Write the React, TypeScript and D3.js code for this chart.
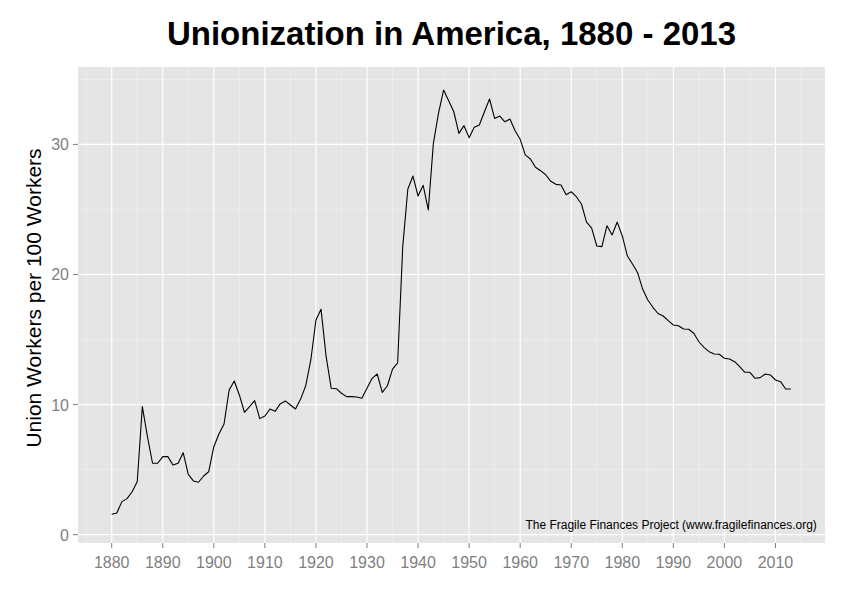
import React, { useEffect, useRef } from 'react';
import * as d3 from 'd3';

// union membership rate, one value per year from 1880 to 2013
const startYear = 1880;
const unionRate = [
  1.57, 1.67, 2.54, 2.77, 3.3, 4.07, 9.84, 7.53, 5.49, 5.49,
  6.0, 6.0, 5.36, 5.49, 6.3, 4.64, 4.13, 4.03, 4.51, 4.84,
  6.76, 7.74, 8.51, 11.12, 11.81, 10.74, 9.41, 9.84, 10.3, 8.92,
  9.12, 9.66, 9.48, 10.05, 10.28, 9.97, 9.66, 10.42, 11.45, 13.43,
  16.5, 17.32, 13.68, 11.25, 11.22, 10.87, 10.61, 10.61, 10.58, 10.48,
  11.25, 12.02, 12.35, 10.94, 11.45, 12.72, 13.2, 22.14, 26.57, 27.57,
  26.03, 26.86, 24.96, 30.08, 32.39, 34.18, 33.36, 32.51, 30.85, 31.44,
  30.52, 31.31, 31.49, 32.51, 33.49, 32.0, 32.18, 31.74, 31.95, 31.05,
  30.39, 29.19, 28.88, 28.24, 27.98, 27.67, 27.16, 26.93, 26.88, 26.13,
  26.36, 25.98, 25.42, 24.03, 23.57, 22.19, 22.14, 23.75, 23.04, 24.03,
  22.96, 21.42, 20.81, 20.14, 18.86, 18.04, 17.48, 17.0, 16.81, 16.45,
  16.12, 16.06, 15.81, 15.79, 15.48, 14.83, 14.4, 14.07, 13.89, 13.87,
  13.56, 13.51, 13.3, 12.91, 12.48, 12.48, 12.02, 12.07, 12.35, 12.28,
  11.89, 11.76, 11.2, 11.2,
];
const years = unionRate.map((_, i) => startYear + i);

const xTicks = [1880, 1890, 1900, 1910, 1920, 1930, 1940, 1950, 1960, 1970, 1980, 1990, 2000, 2010];
const xMinor = [1875, 1885, 1895, 1905, 1915, 1925, 1935, 1945, 1955, 1965, 1975, 1985, 1995, 2005, 2015];
const yTicks = [0, 10, 20, 30];
const yMinor = [5, 15, 25, 35];

const title = 'Unionization in America, 1880 - 2013';
const yLabel = 'Union Workers per 100 Workers';
const caption = 'The Fragile Finances Project (www.fragilefinances.org)';

const width = 858;
const height = 600;
const panel = { left: 78, top: 67, right: 825, bottom: 543 };
const font = 'Liberation Sans, Arial, sans-serif';

export default function App() {
  const ref = useRef<SVGSVGElement>(null);

  useEffect(() => {
    const svg = d3.select(ref.current);
    svg.selectAll('*').remove();

    const x = d3.scaleLinear()
      .domain([1873.4, 2019.7])
      .range([panel.left, panel.right]);
    const y = d3.scaleLinear()
      .domain([-0.64, 35.95])
      .range([panel.bottom, panel.top]);

    svg.append('rect')
      .attr('x', panel.left)
      .attr('y', panel.top)
      .attr('width', panel.right - panel.left)
      .attr('height', panel.bottom - panel.top)
      .attr('fill', '#e5e5e5');

    const grid = svg.append('g');
    grid.selectAll('.vminor').data(xMinor).enter().append('line')
      .attr('x1', d => x(d)).attr('x2', d => x(d))
      .attr('y1', panel.top).attr('y2', panel.bottom)
      .attr('stroke', '#f2f2f2').attr('stroke-width', 0.6);
    grid.selectAll('.hminor').data(yMinor).enter().append('line')
      .attr('x1', panel.left).attr('x2', panel.right)
      .attr('y1', d => y(d)).attr('y2', d => y(d))
      .attr('stroke', '#f2f2f2').attr('stroke-width', 0.6);
    grid.selectAll('.vmajor').data(xTicks).enter().append('line')
      .attr('x1', d => x(d)).attr('x2', d => x(d))
      .attr('y1', panel.top).attr('y2', panel.bottom)
      .attr('stroke', '#ffffff').attr('stroke-width', 1.2);
    grid.selectAll('.hmajor').data(yTicks).enter().append('line')
      .attr('x1', panel.left).attr('x2', panel.right)
      .attr('y1', d => y(d)).attr('y2', d => y(d))
      .attr('stroke', '#ffffff').attr('stroke-width', 1.2);

    const line = d3.line<number>()
      .x((_, i) => x(years[i]))
      .y(d => y(d));

    svg.append('path')
      .datum(unionRate)
      .attr('d', line)
      .attr('fill', 'none')
      .attr('stroke', '#000')
      .attr('stroke-width', 1.1)
      .attr('stroke-linejoin', 'round');

    svg.append('text')
      .attr('x', x(2018.1))
      .attr('y', y(0.4))
      .attr('text-anchor', 'end')
      .attr('font-family', font)
      .attr('font-size', 12)
      .attr('fill', '#000')
      .text(caption);

    // x axis
    const xAxis = svg.append('g');
    xAxis.selectAll('line').data(xTicks).enter().append('line')
      .attr('x1', d => x(d)).attr('x2', d => x(d))
      .attr('y1', panel.bottom).attr('y2', panel.bottom + 5)
      .attr('stroke', '#7f7f7f').attr('stroke-width', 1);
    xAxis.selectAll('text').data(xTicks).enter().append('text')
      .attr('x', d => x(d))
      .attr('y', panel.bottom + 25)
      .attr('text-anchor', 'middle')
      .attr('font-family', font)
      .attr('font-size', 16)
      .attr('fill', '#7f7f7f')
      .text(d => d);

    // y axis
    const yAxis = svg.append('g');
    yAxis.selectAll('line').data(yTicks).enter().append('line')
      .attr('x1', panel.left - 5).attr('x2', panel.left)
      .attr('y1', d => y(d)).attr('y2', d => y(d))
      .attr('stroke', '#7f7f7f').attr('stroke-width', 1);
    yAxis.selectAll('text').data(yTicks).enter().append('text')
      .attr('x', panel.left - 9)
      .attr('y', d => y(d) + 6)
      .attr('text-anchor', 'end')
      .attr('font-family', font)
      .attr('font-size', 16)
      .attr('fill', '#7f7f7f')
      .text(d => d);

    svg.append('text')
      .attr('transform', 'translate(41,298) rotate(-90)')
      .attr('text-anchor', 'middle')
      .attr('font-family', font)
      .attr('font-size', 21)
      .attr('fill', '#000')
      .text(yLabel);

    svg.append('text')
      .attr('x', (panel.left + panel.right) / 2)
      .attr('y', 45)
      .attr('text-anchor', 'middle')
      .attr('font-family', font)
      .attr('font-weight', 'bold')
      .attr('font-size', 33)
      .attr('fill', '#000')
      .text(title);
  }, []);

  return (
    <svg
      ref={ref}
      width={width}
      height={height}
      style={{ position: 'absolute', left: 0, top: 0, background: '#fff' }}
    />
  );
}
